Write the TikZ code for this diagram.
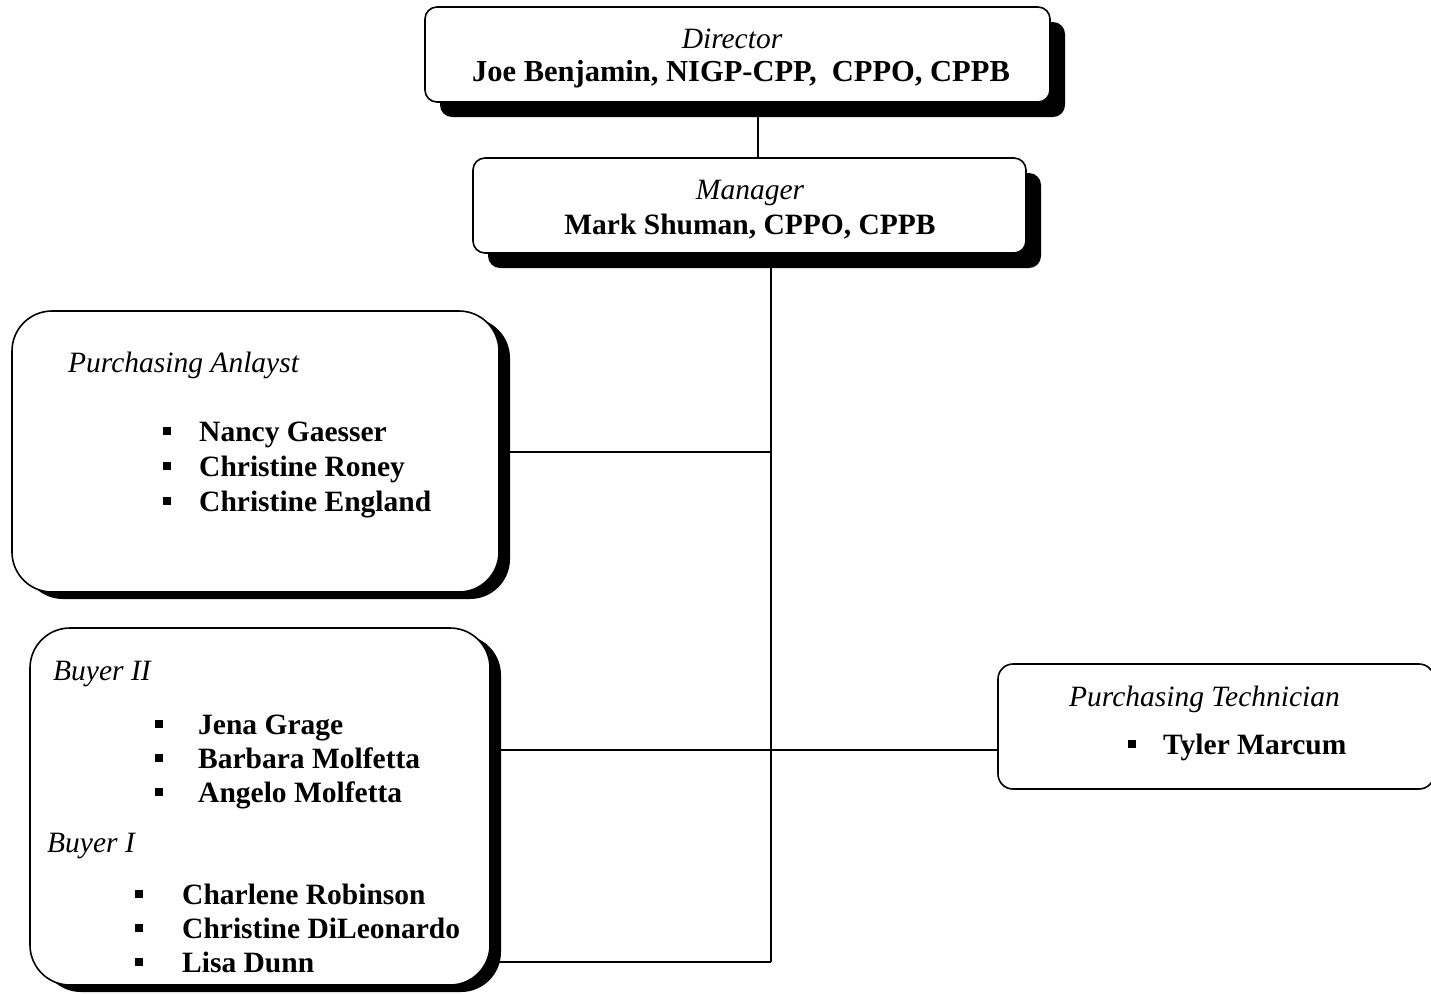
\documentclass[tikz,border=0pt]{standalone}
\usepackage{fontspec}
\setmainfont{Liberation Serif}
\usetikzlibrary{shadows}
\tikzset{
  box/.style={draw, line width=1.6pt, fill=white, inner sep=0pt},
  shade1/.style={drop shadow={shadow xshift=15pt, shadow yshift=-15pt, fill=black, opacity=1}},
  shade2/.style={drop shadow={shadow xshift=11pt, shadow yshift=-7pt, fill=black, opacity=1}},
  role/.style={font=\fontsize{29.5}{34}\selectfont\itshape, inner sep=0pt},
  who/.style={font=\fontsize{29.5}{34}\selectfont\bfseries, inner sep=0pt, anchor=base west},
  bul/.style={fill, minimum size=8pt, inner sep=0pt},
  wire/.style={line width=1.2pt}
}
\begin{document}
\begin{tikzpicture}[x=1pt, y=-1pt]
\useasboundingbox (0,0) rectangle (1431,994);

% boxes
\node[box, shade1, rounded corners=12pt, minimum width=625pt, minimum height=95pt] (dir) at (737.5,54.5) {};
\node[box, shade1, rounded corners=12pt, minimum width=553pt, minimum height=95pt] (mgr) at (749.5,205.5) {};
\node[box, shade2, rounded corners=40pt, minimum width=487pt, minimum height=281pt] (ana) at (255.5,451.5) {};
\node[box, shade2, rounded corners=40pt, minimum width=460pt, minimum height=357pt] (buy) at (260,806.5) {};
\node[box, rounded corners=15pt, minimum width=436pt, minimum height=125pt] (tech) at (1216,726.5) {};

% connectors
\coordinate (j1) at (771,452);
\coordinate (j2) at (771,750);
\coordinate (j3) at (771,962);
\draw[wire] (dir.south -| 758,0) -- (mgr.north -| 758,0);
\draw[wire] (mgr.south -| j1) -- (j3);
\draw[wire] (ana.east |- j1) -- (j1);
\draw[wire] (buy.east |- j2) -- (tech.west |- j2);
\draw[wire] (buy.east |- j3) -- (j3);

% titles
\node[role, anchor=base] (dirt) at (732,48) {Director};
\node[who, anchor=base, font=\fontsize{30.5}{34}\selectfont\bfseries] (dirn) at (741,81) {Joe Benjamin, NIGP-CPP,~~CPPO, CPPB};
\node[role, anchor=base] (mgrt) at (750,199) {Manager};
\node[who, anchor=base] (mgrn) at (750,234) {Mark Shuman, CPPO, CPPB};
\node[role, anchor=base west] (anat) at (68,372) {Purchasing Anlayst};
\node[role, anchor=base west] (buy2t) at (53,680) {Buyer II};
\node[role, anchor=base west] (buy1t) at (47,852) {Buyer I};
\node[role, anchor=base west] (techt) at (1069,706) {Purchasing Technician};

% names
\foreach \name [count=\i] in {Nancy Gaesser, Christine Roney, Christine England}
{
    \node[bul] (anab\i) at (167,{396+35*\i}) {};
    \node[who] (ana\i) at (199,{406+35*\i}) {\name};
}
\foreach \name [count=\i] in {Jena Grage, Barbara Molfetta, Angelo Molfetta}
{
    \node[bul] (buy2b\i) at (159,{690+34*\i}) {};
    \node[who] (buy2\i) at (198,{700+34*\i}) {\name};
}
\foreach \name [count=\i] in {Charlene Robinson, Christine DiLeonardo, Lisa Dunn}
{
    \node[bul] (buy1b\i) at (139,{860+34*\i}) {};
    \node[who] (buy1\i) at (182,{870+34*\i}) {\name};
}
\node[bul] (techb1) at (1132,744) {};
\node[who] (tech1) at (1163,754) {Tyler Marcum};
\end{tikzpicture}
\end{document}
